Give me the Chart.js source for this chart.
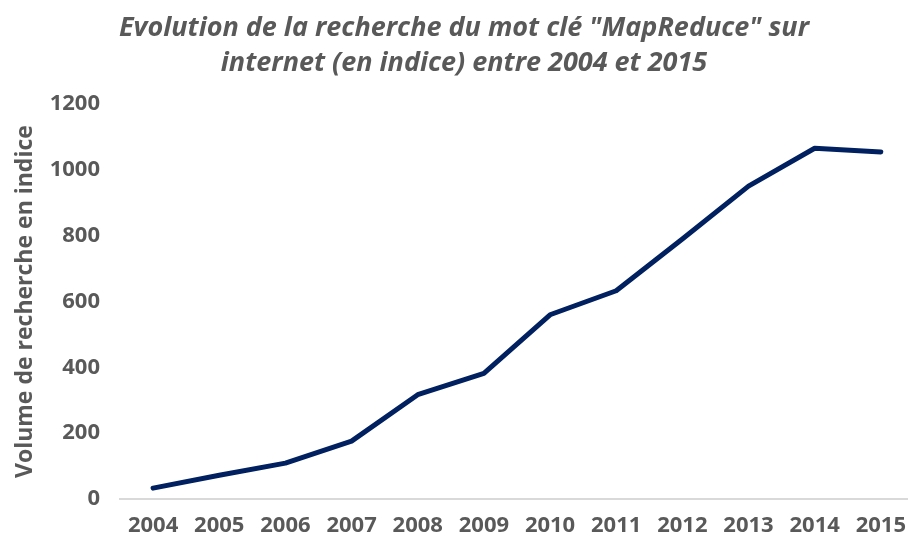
<!DOCTYPE html>
<html>
<head>
<meta charset="utf-8">
<script src="https://cdn.jsdelivr.net/npm/chart.js@4"></script>
<style>
  body { margin: 0; background: #fff; }
  #wrap { width: 908px; height: 539px; overflow: hidden; }
</style>
</head>
<body>
<div id="wrap"><canvas id="myChart" width="920" height="539"></canvas></div>
<script>
var years = ["2004", "2005", "2006", "2007", "2008", "2009", "2010", "2011", "2012", "2013", "2014", "2015"];
var indice = [33, 72, 109, 176, 317, 382, 560, 633, 790, 951, 1066, 1055];
var yTicks = [0, 200, 400, 600, 800, 1000, 1200];

var gris = "#595959";
var ctx = document.getElementById("myChart");
var chart = new Chart(ctx, {
    type: 'line',
    data: {
        labels: years,
        datasets: [{
            data: indice,
            borderColor: "#002060",
            borderWidth: 5,
            pointRadius: 0,
            tension: 0,
            borderCapStyle: 'round',
            borderJoinStyle: 'round',
            fill: false
        }]
    },
    options: {
        responsive: false,
        animation: false,
        layout: { padding: { left: 8, right: 0, top: 0, bottom: 0 } },
        plugins: {
            legend: { display: false },
            tooltip: { enabled: false },
            title: {
                display: true,
                text: ['Evolution de la recherche du mot clé "MapReduce" sur', 'internet (en indice) entre 2004 et 2015'],
                color: gris,
                font: { family: "Open Sans", size: 27, weight: 'bold', style: 'italic', lineHeight: 1.3 },
                padding: { top: 11, bottom: 23 }
            }
        },
        scales: {
            x: {
                offset: true,
                grid: { display: false, drawTicks: false },
                border: { display: true, color: "#d9d9d9", width: 2 },
                ticks: { color: gris, font: { family: "Open Sans", size: 22, weight: 'bold' }, padding: 14, maxRotation: 0 },
                afterFit: function (axis) { axis.height = 40; }
            },
            y: {
                min: 0,
                max: 1200,
                afterBuildTicks: function (axis) {
                    axis.ticks = yTicks.map(function (v) { return { value: v }; });
                },
                grid: { display: false, drawTicks: false },
                border: { display: false },
                ticks: {
                    color: gris,
                    font: { family: "Open Sans", size: 22, weight: 'bold' },
                    padding: 20,
                    callback: function (v) { return String(v); }
                },
                title: {
                    display: true,
                    text: "Volume de recherche en indice",
                    color: gris,
                    font: { family: "Open Sans", size: 23, weight: 'bold' },
                    padding: { bottom: 10 }
                },
                afterFit: function (axis) { axis.width = 112; }
            }
        }
    }
});
</script>
</body>
</html>
